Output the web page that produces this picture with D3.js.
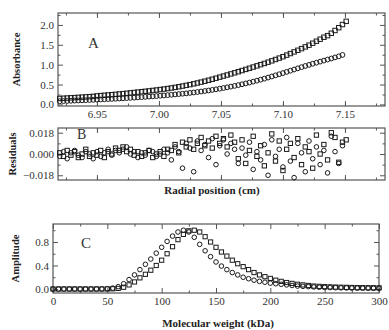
<!DOCTYPE html>
<html><head><meta charset="utf-8">
<script src="https://cdn.jsdelivr.net/npm/d3@7"></script>
<style>body{margin:0;background:#fff}svg{display:block}</style>
</head><body><svg id="c" width="389" height="330"></svg>
<script>
// ---- DATA ----
const radialPos = [6.920,6.923,6.926,6.929,6.932,6.935,6.938,6.941,6.944,6.947,
6.950,6.953,6.956,6.959,6.962,6.965,6.968,6.971,6.974,6.977,
6.980,6.983,6.986,6.989,6.992,6.995,6.998,7.001,7.004,7.007,
7.010,7.013,7.016,7.019,7.022,7.025,7.028,7.031,7.034,7.037,
7.040,7.043,7.046,7.049,7.052,7.055,7.058,7.061,7.064,7.067,
7.070,7.073,7.076,7.079,7.082,7.085,7.088,7.091,7.094,7.097,
7.100,7.103,7.106,7.109,7.112,7.115,7.118,7.121,7.124,7.127,
7.130,7.133,7.136,7.139,7.142,7.145,7.148,7.151];
const absUpper = [0.150,0.155,0.160,0.166,0.171,0.177,0.183,0.189,0.195,0.201,
0.214,0.222,0.229,0.237,0.245,0.253,0.262,0.271,0.280,0.290,
0.300,0.310,0.320,0.330,0.340,0.351,0.362,0.374,0.386,0.399,
0.413,0.428,0.444,0.461,0.479,0.498,0.518,0.539,0.561,0.584,
0.608,0.633,0.659,0.686,0.713,0.740,0.767,0.795,0.823,0.852,
0.881,0.910,0.940,0.970,1.000,1.031,1.063,1.096,1.130,1.165,
1.200,1.240,1.280,1.321,1.362,1.404,1.447,1.490,1.540,1.590,
1.640,1.690,1.730,1.790,1.860,1.930,2.010,2.090];
const absLower = [0.080,0.084,0.087,0.091,0.095,0.099,0.102,0.106,0.111,0.115,
0.120,0.124,0.129,0.134,0.138,0.143,0.148,0.154,0.159,0.165,
0.170,0.177,0.183,0.190,0.196,0.203,0.210,0.218,0.226,0.234,
0.242,0.251,0.260,0.269,0.278,0.289,0.300,0.312,0.324,0.337,
0.350,0.365,0.380,0.396,0.413,0.430,0.448,0.466,0.486,0.507,
0.528,0.550,0.573,0.597,0.622,0.648,0.675,0.703,0.731,0.759,
0.788,0.818,0.848,0.878,0.908,0.938,0.967,0.995,1.023,1.050,
1.077,1.103,1.129,1.155,1.182,1.210,1.245];
// residuals in units of 0.001
const residUpper = [1,-2,3,-1,2,-3,0,4,-2,1,
-1,3,-3,2,0,5,3,6,2,4,
-1,2,-2,1,3,-3,0,2,-2,4,
3,8,1,10,6,12,4,9,14,7,
11,5,15,9,13,6,16,10,
-4,12,-8,3,15,-2,7,-10,1,17,
-6,11,-14,4,9,-3,13,-9,6,2,
-12,16,0,8,-5,18,14,-7,10,12];
const residLower = [-2,2,-4,1,3,-1,-3,2,0,-4,
2,-2,1,4,-1,3,1,4,6,0,
2,-3,1,-1,3,2,-2,0,4,1,
-5,6,2,-12,9,5,-15,11,3,8,
-3,13,-9,7,12,0,9,4,
-8,5,-1,10,-13,2,-5,8,-18,12,
-2,4,-11,14,-6,-20,9,1,-15,11,
-4,6,-9,3,-16,15,2,-8,7];
const molWeight = [0,5,10,15,20,25,30,35,40,45,50,55,60,65,70,75,80,85,90,95,
100,105,110,115,120,125,130,135,140,145,150,155,160,165,170,175,180,185,190,195,
200,205,210,215,220,225,230,235,240,245,250,255,260,265,270,275,280,285,290,295,300];
const ampCircles = [0,0,0,0,0,0,0,0,0.001,0.002,0.005,0.015,0.04,0.09,0.16,0.24,0.33,0.42,0.51,0.61,
0.71,0.81,0.90,0.97,1.00,0.97,0.88,0.76,0.65,0.55,0.46,0.39,0.33,0.28,0.24,0.20,0.175,0.15,0.13,0.115,
0.10,0.09,0.08,0.07,0.06,0.05,0.045,0.04,0.035,0.03,0.027,0.025,0.022,0.02,0.018,0.016,0.015,0.014,0.013,0.012,0.012];
const ampSquares = [0,0,0,0,0,0,0,0,0,0,0.001,0.004,0.01,0.03,0.07,0.12,0.19,0.25,0.32,0.40,
0.49,0.60,0.72,0.84,0.93,0.99,1.00,0.97,0.89,0.80,0.71,0.63,0.56,0.49,0.43,0.38,0.33,0.28,0.24,0.21,
0.18,0.15,0.13,0.11,0.095,0.08,0.07,0.06,0.05,0.045,0.04,0.036,0.033,0.03,0.028,0.026,0.024,0.023,0.022,0.021,0.02];

// ---- DRAW ----
const svg = d3.select("#c");
const FONT = "Liberation Serif, Times New Roman, serif";
const INK = "#1a1a1a";

function panel(o){
  const x = d3.scaleLinear().domain(o.xd).range([o.l, o.r]);
  const y = d3.scaleLinear().domain(o.yd).range([o.b, o.t]);
  const g = svg.append("g");
  function ax(gen, tr, vals, size, fmt){
    const a = g.append("g").attr("transform", tr)
      .call(gen.tickValues(vals).tickSize(size).tickPadding(4).tickFormat(fmt));
    a.select(".domain").remove();
    a.selectAll("line").attr("stroke", "#555").attr("stroke-width", 1);
    a.selectAll("text").attr("font-family", FONT).attr("font-size", 11).attr("fill", "#333");
    return a;
  }
  const none = () => "";
  ax(d3.axisBottom(x), `translate(0,${o.b})`, o.xMinor, -2.5, none);
  ax(d3.axisTop(x), `translate(0,${o.t})`, o.xMinor, -2.5, none);
  ax(d3.axisLeft(y), `translate(${o.l},0)`, o.yMinor, -2.5, none);
  ax(d3.axisRight(y), `translate(${o.r},0)`, o.yMinor, -2.5, none);
  ax(d3.axisBottom(x), `translate(0,${o.b})`, o.xMajor, -5, o.xLab ? o.xFmt : none);
  ax(d3.axisTop(x), `translate(0,${o.t})`, o.xMajor, -5, none);
  ax(d3.axisLeft(y), `translate(${o.l},0)`, o.yMajor, -5, o.yFmt);
  ax(d3.axisRight(y), `translate(${o.r},0)`, o.yMajor, -5, none);
  g.append("rect").attr("x", o.l).attr("y", o.t).attr("width", o.r - o.l).attr("height", o.b - o.t)
    .attr("fill", "none").attr("stroke", "#555").attr("stroke-width", 1.2);
  g.append("text").attr("x", o.labX).attr("y", o.labY).text(o.letter)
    .attr("font-family", FONT).attr("font-size", o.letterSize || 15).attr("fill", "#333");
  g.append("text").attr("transform", `translate(${o.ytX},${(o.t + o.b) / 2}) rotate(-90)`)
    .attr("text-anchor", "middle").attr("font-family", FONT).attr("font-weight", "bold")
    .attr("font-size", 10.5).attr("fill", "#222").text(o.yTitle);
  return {x, y, g};
}
function circles(p, xs, ys, r){
  p.g.append("g").selectAll("circle").data(ys).join("circle")
    .attr("cx", (d, i) => p.x(xs[i])).attr("cy", d => p.y(d)).attr("r", r)
    .attr("fill", "none").attr("stroke", INK).attr("stroke-width", 1);
}
function squares(p, xs, ys, s){
  p.g.append("g").selectAll("rect").data(ys).join("rect")
    .attr("x", (d, i) => p.x(xs[i]) - s / 2).attr("y", d => p.y(d) - s / 2)
    .attr("width", s).attr("height", s)
    .attr("fill", "none").attr("stroke", INK).attr("stroke-width", 1);
}

const radMajor = [6.95, 7.00, 7.05, 7.10, 7.15];
const radMinor = [6.925, 6.95, 6.975, 7.00, 7.025, 7.05, 7.075, 7.10, 7.125, 7.15, 7.175];

// Panel A
const A = panel({l:58, r:385, t:13, b:106, xd:[6.9186, 7.1823], yd:[-0.04, 2.30],
  xMajor: radMajor, xMinor: radMinor, xLab:true, xFmt: d3.format(".2f"),
  yMajor:[0,0.5,1.0,1.5,2.0], yMinor:[0.25,0.75,1.25,1.75,2.25], yFmt: d3.format(".1f"),
  letter:"A", labX:88, labY:48, ytX:20, yTitle:"Absorbance"});
circles(A, radialPos, absLower, 2.4);
squares(A, radialPos, absUpper, 4.4);

// Panel B
const B = panel({l:58, r:385, t:128, b:180, xd:[6.9186, 7.1823], yd:[-0.022, 0.022],
  xMajor: radMajor, xMinor: radMinor, xLab:false,
  yMajor:[-0.018, 0, 0.018], yMinor:[-0.009, 0.009], yFmt: d3.format(".3f"),
  letter:"B", labX:77, labY:139, letterSize:14, ytX:16, yTitle:"Residuals"});
circles(B, radialPos, residLower.map(v => v / 1000), 2.3);
squares(B, radialPos, residUpper.map(v => v / 1000), 4.3);
svg.append("text").attr("x", 212).attr("y", 194).attr("text-anchor", "middle")
  .attr("font-family", FONT).attr("font-weight", "bold").attr("font-size", 11).attr("fill", "#222")
  .text("Radial position (cm)");

// Panel C
const C = panel({l:53, r:379, t:224, b:293, xd:[0, 300], yd:[-0.068, 1.106],
  xMajor:[0,50,100,150,200,250,300], xMinor:[25,75,125,175,225,275], xLab:true, xFmt: d3.format("d"),
  yMajor:[0,0.4,0.8], yMinor:[0.2,0.6,1.0], yFmt: d3.format(".1f"),
  letter:"C", labX:81, labY:248, ytX:19, yTitle:"Amplitude"});
circles(C, molWeight, ampCircles, 2.3);
squares(C, molWeight, ampSquares, 4.2);
svg.append("text").attr("x", 218).attr("y", 327).attr("text-anchor", "middle")
  .attr("font-family", FONT).attr("font-weight", "bold").attr("font-size", 11).attr("fill", "#222")
  .text("Molecular weight (kDa)");
</script></body></html>
